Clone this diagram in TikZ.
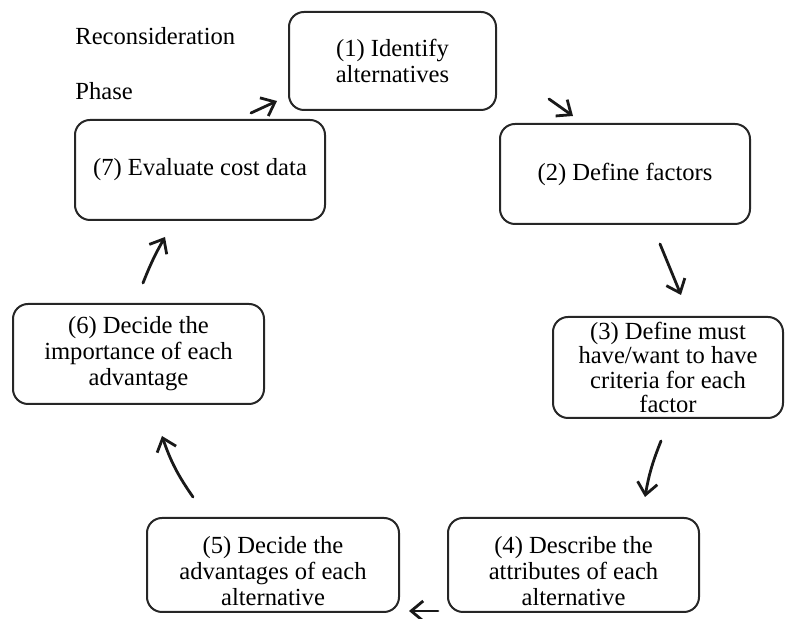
\documentclass[tikz,border=0pt]{standalone}
\usepackage{fontspec}
\setmainfont{Liberation Serif}
\usetikzlibrary{arrows.meta}
\begin{document}
\begin{tikzpicture}[x=0.5pt,y=-0.5pt,
  stepbox/.style={draw=black!85, line width=1pt, rounded corners=7.5pt,
    align=center, inner sep=0pt,
    font=\fontsize{12.3}{13}\selectfont},
  flow/.style={draw=black!90, line width=1.4pt, line cap=round,
    -{Straight Barb[length=6pt,width=10pt,line width=1.4pt]}},
  lbl/.style={anchor=base west, inner sep=0pt, font=\fontsize{12.3}{12.2}\selectfont}]
\useasboundingbox (0,0) rectangle (794,619);

% process steps
\node[stepbox, minimum width=103.5pt, minimum height=49pt] (s1) at (392.5,61) {(1) Identify\\alternatives};
\node[stepbox, minimum width=125pt, minimum height=50pt] (s2) at (625,174) {(2) Define factors};
\node[stepbox, minimum width=115pt, minimum height=50.5pt,
  font=\fontsize{12.3}{12.2}\selectfont] (s3) at (668,367.5) {(3) Define must\\have/want to have\\criteria for each\\factor};
\node[stepbox, minimum width=125.5pt, minimum height=47pt] (s4) at (573.5,565) {};
\node[stepbox, minimum width=126pt, minimum height=47pt] (s5) at (273,565) {};
\node[stepbox, minimum width=125.5pt, minimum height=50pt] (s6) at (138.5,354) {(6) Decide the\\importance of each\\advantage};
\node[stepbox, minimum width=125pt, minimum height=50pt] (s7) at (200,170) {(7) Evaluate cost data};

% text of the two lower steps sits a little below their centres
\node[stepbox, draw=none, anchor=center] (s4t) at ([yshift=-3pt]s4.center) {(4) Describe the\\attributes of each\\alternative};
\node[stepbox, draw=none, anchor=center] (s5t) at ([yshift=-3pt]s5.center) {(5) Decide the\\advantages of each\\alternative};

% phase label
\node[lbl] (t1) at (75,45) {Reconsideration};
\node[lbl] (t2) at (75,100) {Phase};

% arrow end points between the steps
\coordinate (a1s) at (251,113);
\coordinate (a1e) at (277,101);
\coordinate (a2s) at (549,99);
\coordinate (a2e) at (573,116);
\coordinate (a3s) at (660,244);
\coordinate (a3e) at (681,295);
\coordinate (a4s) at (661,441);
\coordinate (a4e) at (645,497);
\coordinate (a5s) at (438,611);
\coordinate (a5e) at (409,611);
\coordinate (a6s) at (193,497);
\coordinate (a6e) at (162,436);
\coordinate (a7s) at (143,283);
\coordinate (a7e) at (165,237);

\draw[flow] (a1s) -- (a1e);
\draw[flow] (a2s) -- (a2e);
\draw[flow] (a3s) -- (a3e);
\draw[flow] (a4s) to[bend right=6] (a4e);
\draw[flow] (a5s) -- (a5e);
\draw[flow] (a6s) to[bend left=8] (a6e);
\draw[flow] (a7s) to[bend left=4] (a7e);
\end{tikzpicture}
\end{document}
